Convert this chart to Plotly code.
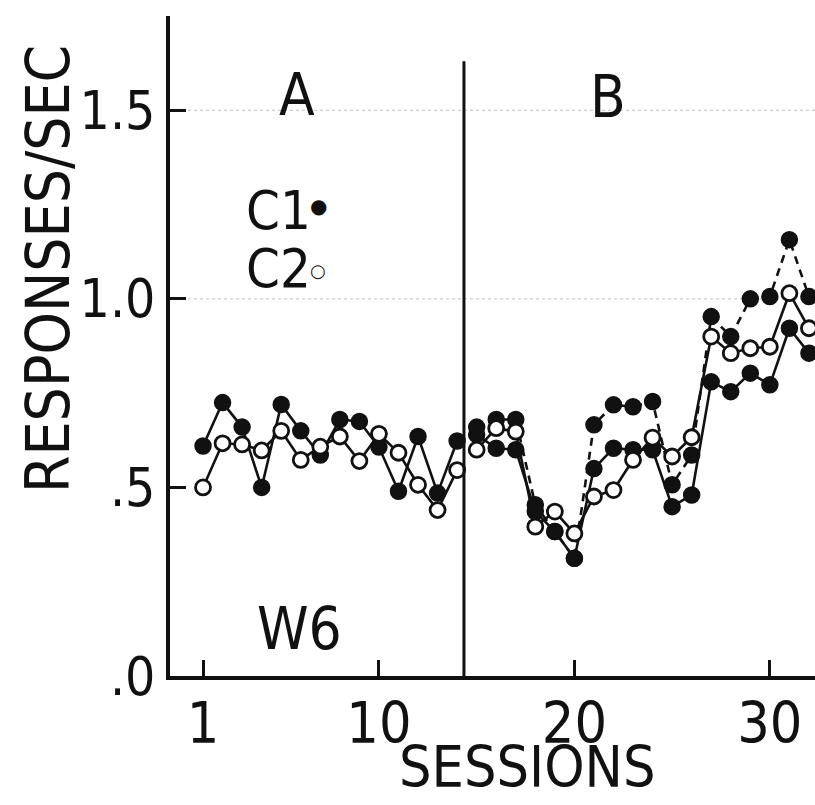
import plotly.graph_objects as go

# Sessions for the two phases
sessions_a = list(range(1, 15))
sessions_b = list(range(15, 33))

# Phase A: responses per second for each component
c1_a = [0.61, 0.725, 0.66, 0.50, 0.72, 0.65, 0.586, 0.68, 0.675, 0.607, 0.49, 0.635, 0.485, 0.623]
c2_a = [0.50, 0.617, 0.614, 0.598, 0.65, 0.573, 0.608, 0.635, 0.57, 0.642, 0.592, 0.507, 0.44, 0.546]

# Phase B: C1 (dashed and solid records) and C2
c1_b_dashed = [0.66, 0.68, 0.68, 0.454, 0.383, 0.312, 0.666, 0.719, 0.714, 0.728,
               0.507, 0.586, 0.953, 0.90, 1.00, 1.006, 1.157, 1.006]
c1_b_solid = [0.64, 0.604, 0.60, 0.436, 0.383, 0.312, 0.55, 0.604, 0.60, 0.60,
              0.449, 0.48, 0.78, 0.754, 0.803, 0.772, 0.922, 0.856]
c2_b = [0.60, 0.657, 0.648, 0.396, 0.436, 0.378, 0.476, 0.493, 0.573, 0.632,
        0.582, 0.633, 0.90, 0.856, 0.869, 0.873, 1.015, 0.922]

x_ticks = [1, 10, 20, 30]
x_tick_text = ["1", "10", "20", "30"]
y_ticks = [0, 0.5, 1.0, 1.5]
y_tick_text = [".0", ".5", "1.0", "1.5"]
guide_levels = [1.0, 1.5]
phase_boundary = 14.35

FONT = "Liberation Sans Narrow, DejaVu Sans Condensed, Arial Narrow, sans-serif"
INK = "#111111"

filled = dict(size=16, color=INK, line=dict(color=INK, width=1.5))
hollow = dict(size=15, color="white", line=dict(color=INK, width=2.8))

fig = go.Figure()


def add_series(xs, ys, marker, dash="solid"):
    fig.add_trace(go.Scatter(
        x=xs, y=ys, mode="lines+markers",
        line=dict(color=INK, width=2.6, dash=dash),
        marker=marker, showlegend=False, cliponaxis=False,
    ))


add_series(sessions_a, c1_a, filled)
add_series(sessions_a, c2_a, hollow)
add_series(sessions_b, c1_b_dashed, filled, dash="8px,6px")
add_series(sessions_b, c1_b_solid, filled)
add_series(sessions_b, c2_b, hollow)

# faint dotted guide lines
for lvl in guide_levels:
    fig.add_shape(type="line", xref="paper", yref="y", x0=0, x1=1, y0=lvl, y1=lvl,
                  line=dict(color="#c2c2c2", width=1, dash="dot"), layer="below")

# phase boundary
fig.add_shape(type="line", xref="x", yref="y", x0=phase_boundary, x1=phase_boundary,
              y0=0, y1=1.63, line=dict(color=INK, width=3))

text_font = dict(family=FONT, size=58, color=INK)
label_font = dict(family=FONT, size=54, color=INK)


def note(x, y, text, font, **kw):
    fig.add_annotation(x=x, y=y, xref="x", yref="y", text=text, showarrow=False,
                       xanchor="center", yanchor="middle", font=font, **kw)


note(5.8, 1.54, "A", text_font)
note(21.7, 1.535, "B", text_font)
note(4.85, 1.235, "C1", label_font)
note(6.9, 1.245, "●", dict(family="DejaVu Sans", size=20, color=INK))
note(4.85, 1.08, "C2", label_font)
note(6.9, 1.075, "○", dict(family="DejaVu Sans", size=18, color=INK))
note(5.95, 0.125, "W6", text_font)

# axis titles
fig.add_annotation(x=(48 - 170) / 645, y=(676 - 269) / 660, xref="paper", yref="paper",
                   text="RESPONSES/SEC", textangle=-90, showarrow=False,
                   xanchor="center", yanchor="middle",
                   font=dict(family=FONT, size=60, color=INK))
fig.add_annotation(x=(527 - 170) / 645, y=-(767 - 676) / 660, xref="paper", yref="paper",
                   text="SESSIONS", showarrow=False, xanchor="center", yanchor="middle",
                   font=dict(family=FONT, size=57, color=INK))

fig.update_layout(
    width=815, height=805,
    margin=dict(l=170, r=0, t=16, b=129),
    paper_bgcolor="white", plot_bgcolor="white",
    xaxis=dict(range=[-0.69, 32.31], tickvals=x_ticks, ticktext=x_tick_text,
               ticks="inside", ticklen=16, tickwidth=2.5, tickcolor=INK,
               showline=True, linewidth=3.5, linecolor=INK, showgrid=False, zeroline=False,
               tickfont=dict(family=FONT, size=57, color=INK), ticklabelstandoff=-5),
    yaxis=dict(range=[0, 1.75], tickvals=y_ticks, ticktext=y_tick_text,
               ticks="inside", ticklen=16, tickwidth=2.5, tickcolor=INK,
               showline=True, linewidth=4, linecolor=INK, showgrid=False, zeroline=False,
               tickfont=dict(family=FONT, size=53, color=INK), ticklabelstandoff=0),
)

fig.write_html("out.html")
